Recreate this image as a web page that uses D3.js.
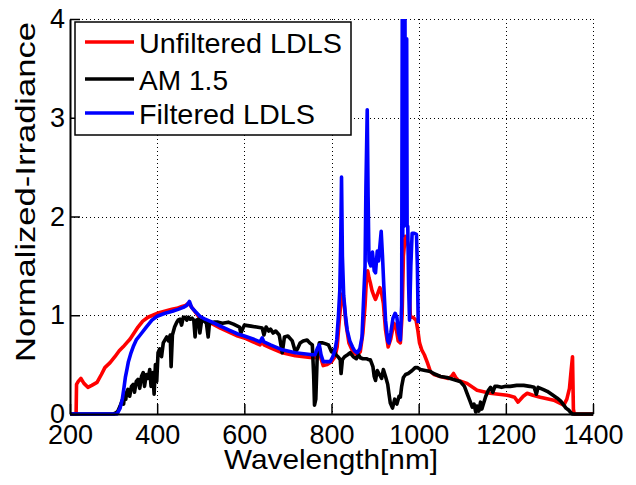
<!DOCTYPE html>
<html><head><meta charset="utf-8">
<script src="https://cdn.jsdelivr.net/npm/d3@7"></script>
<style>
body{margin:0;background:#fff;}
svg{display:block;font-family:"Liberation Sans",Arial,sans-serif;}
</style></head>
<body><svg id="c" width="636" height="485"></svg>
<script>
const xTicks = [200,400,600,800,1000,1200,1400];
const yTicks = [0,1,2,3,4];
const seriesNames = ["Unfiltered LDLS","AM 1.5","Filtered LDLS"];
const seriesColors = ["#ff0000","#000000","#0000ff"];

// Unfiltered LDLS
const redWl = [200,214,215,219,225,232,241,250,262,272,280,292,303,313,322,330,338,347,356,367,379,390,400,417,434,445,457,465,471,476,486,498,515,528,545,565,585,600,620,636,641,645,660,687,717,756,762,768,772,776,781,790,800,808,813,817,820,823,826,829,833,840,848,858,866,872,877,880,883,886,889,893,897,901,906,911,915,919,924,930,936,943,948,953,958,962,965,969,974,977,979,981,987,994,998,1002,1007,1013,1020,1027,1035,1050,1068,1075,1080,1085,1091,1111,1134,1164,1203,1220,1228,1240,1249,1262,1279,1310,1333,1340,1346,1350,1353,1355,1357,1400];
const redVal = [0,0,0.30,0.33,0.36,0.31,0.27,0.29,0.32,0.40,0.47,0.52,0.58,0.64,0.68,0.72,0.76,0.82,0.88,0.94,0.98,1.00,1.02,1.04,1.06,1.07,1.09,1.10,1.12,1.10,1.04,0.97,0.93,0.91,0.87,0.83,0.79,0.77,0.73,0.70,0.74,0.70,0.67,0.62,0.59,0.57,0.57,0.63,0.67,0.56,0.49,0.50,0.53,0.58,0.68,0.90,1.05,1.20,1.22,1.12,0.92,0.72,0.64,0.60,0.63,0.82,1.10,1.35,1.45,1.38,1.33,1.25,1.20,1.16,1.22,1.28,1.22,1.12,0.85,0.68,0.76,0.92,0.88,0.74,0.72,1.00,1.60,1.80,1.75,1.68,1.20,0.98,0.98,0.95,0.85,0.72,0.65,0.60,0.52,0.43,0.40,0.38,0.36,0.38,0.41,0.37,0.34,0.31,0.24,0.21,0.19,0.17,0.12,0.18,0.21,0.19,0.17,0.14,0.09,0.15,0.26,0.45,0.58,0.05,0,0];

// AM 1.5
const blackWl = [200,300,305,310,315,320,323,325,328,330,333,337,341,345,348,352,356,360,364,368,371,375,379,383,386,390,393,396,399,402,406,410,414,418,422,426,430,432,435,440,445,448,452,456,460,464,468,472,476,480,484,487,490,495,498,502,508,513,517,520,530,540,550,563,575,589,592,600,615,628,641,645,650,656,660,666,672,680,687,692,700,710,717,722,728,735,744,750,756,759,761,764,767,772,780,787,793,800,805,810,815,820,822,825,830,837,843,850,857,862,866,872,880,885,889,895,898,901,905,910,915,919,924,929,932,935,940,945,950,955,958,961,965,970,976,985,992,997,1004,1015,1027,1034,1050,1065,1080,1095,1105,1111,1117,1123,1127,1131,1134,1138,1142,1145,1149,1154,1160,1165,1170,1175,1180,1190,1200,1210,1225,1241,1255,1265,1270,1274,1285,1295,1305,1318,1326,1333,1338,1344,1350,1353,1400];
const blackVal = [0,0,0.01,0.03,0.08,0.14,0.10,0.19,0.15,0.22,0.25,0.18,0.28,0.30,0.22,0.33,0.35,0.26,0.38,0.42,0.28,0.40,0.36,0.45,0.28,0.42,0.20,0.50,0.33,0.62,0.66,0.58,0.72,0.75,0.78,0.74,0.80,0.48,0.80,0.88,0.93,0.95,0.96,0.90,0.98,0.98,0.95,0.98,0.96,0.97,0.95,0.78,0.95,0.96,0.82,0.95,0.94,0.92,0.78,0.92,0.93,0.93,0.92,0.93,0.91,0.88,0.82,0.90,0.89,0.88,0.87,0.80,0.88,0.84,0.86,0.82,0.84,0.80,0.62,0.78,0.79,0.74,0.63,0.66,0.72,0.74,0.75,0.72,0.70,0.40,0.09,0.15,0.55,0.72,0.72,0.71,0.70,0.63,0.65,0.60,0.58,0.55,0.41,0.55,0.58,0.60,0.62,0.58,0.56,0.60,0.57,0.56,0.56,0.55,0.55,0.48,0.38,0.34,0.44,0.40,0.36,0.45,0.38,0.30,0.20,0.11,0.06,0.15,0.10,0.18,0.17,0.28,0.37,0.40,0.41,0.44,0.47,0.47,0.45,0.44,0.43,0.41,0.38,0.37,0.35,0.33,0.28,0.21,0.14,0.07,0.10,0.02,0.08,0.03,0.12,0.05,0.11,0.18,0.24,0.27,0.22,0.28,0.28,0.27,0.28,0.28,0.29,0.29,0.28,0.27,0.20,0.27,0.25,0.23,0.20,0.16,0.13,0.09,0.06,0.04,0.01,0,0];

// Filtered LDLS
const blueWl = [200,308,315,320,324,327,331,334,340,345,352,361,375,388,400,418,435,448,460,468,474,479,487,498,510,526,545,565,585,600,620,636,641,645,660,687,717,756,762,768,772,776,781,790,797,803,808,812,816,819,821,823,825,828,832,836,842,848,853,859,865,870,874,877,879,882,884,886,890,894,898,901,905,908,911,914,917,920,924,929,932,936,941,946,950,954,958,961,962.5,963.5,964.5,965.5,966.5,967.5,968.5,969.5,970.5,971.5,972.5,973.5,975,977,979,982,985,990,995,997,999];
const blueVal = [0,0,0.06,0.15,0.27,0.37,0.46,0.53,0.62,0.68,0.75,0.80,0.88,0.95,0.99,1.02,1.04,1.06,1.08,1.10,1.14,1.08,1.04,0.99,0.96,0.93,0.89,0.85,0.81,0.79,0.76,0.73,0.77,0.73,0.70,0.65,0.62,0.60,0.60,0.67,0.70,0.60,0.53,0.53,0.53,0.58,0.65,0.75,1.00,1.25,1.70,2.40,1.60,1.20,1.00,0.85,0.74,0.68,0.64,0.62,0.66,0.78,1.20,1.50,2.30,3.08,2.20,1.55,1.50,1.64,1.45,1.43,1.65,1.55,1.70,1.85,1.60,1.30,0.95,0.74,0.72,0.82,0.97,1.02,0.98,0.82,0.75,1.10,4.30,1.80,4.30,1.90,4.30,2.00,4.30,2.00,3.80,2.00,3.80,1.90,1.90,1.30,0.95,1.50,1.83,1.83,1.82,1.50,0.92];

const W = 636, H = 485;
const m = {left:70, right:593, top:19, bottom:414};
const svg = d3.select("#c");
const x = d3.scaleLinear().domain([200,1400]).range([m.left, m.right]);
const y = d3.scaleLinear().domain([0,4]).range([m.bottom, m.top]);

// grid
const grid = svg.append("g").attr("stroke","#000").attr("stroke-width",1).attr("stroke-dasharray","1,3");
xTicks.slice(1).forEach(t=>{
  grid.append("line").attr("x1",Math.round(x(t))+0.5).attr("x2",Math.round(x(t))+0.5).attr("y1",m.top).attr("y2",m.bottom);
});
yTicks.slice(1).forEach(t=>{
  grid.append("line").attr("x1",m.left).attr("x2",m.right).attr("y1",Math.round(y(t))+0.5).attr("y2",Math.round(y(t))+0.5);
});

// clip
svg.append("defs").append("clipPath").attr("id","clip").append("rect")
  .attr("x",m.left-2).attr("y",m.top).attr("width",m.right-m.left+4).attr("height",m.bottom-m.top+4);

const line = d3.line().x(d=>x(d[0])).y(d=>y(d[1]));
const data = [
  d3.zip(redWl, redVal),
  d3.zip(blackWl, blackVal),
  d3.zip(blueWl, blueVal)
];
const lines = svg.append("g").attr("clip-path","url(#clip)");
data.forEach((d,i)=>{
  lines.append("path").datum(d).attr("d",line).attr("fill","none")
    .attr("stroke",seriesColors[i]).attr("stroke-width",3.6)
    .attr("stroke-linejoin","round");
});

// axes
const fs = 27;
const xAxis = d3.axisBottom(x).tickValues(xTicks).tickSizeInner(-10).tickSizeOuter(0).tickPadding(11).tickFormat(d3.format("d"));
const yAxis = d3.axisLeft(y).tickValues(yTicks).tickSizeInner(-10).tickSizeOuter(0).tickPadding(5).tickFormat(d3.format("d"));
const gx = svg.append("g").attr("transform",`translate(0,${m.bottom})`).call(xAxis);
const gy = svg.append("g").attr("transform",`translate(${m.left},0)`).call(yAxis);
[gx,gy].forEach(g=>{
  g.select(".domain").attr("stroke","#000").attr("stroke-width",2);
  g.selectAll(".tick line").attr("stroke","#000").attr("stroke-width",1.5);
  g.selectAll("text").attr("fill","#000").style("font-size",fs+"px").style("font-family","'Liberation Sans',Arial,sans-serif");
});

// labels
svg.append("text").attr("x",331).attr("y",469).attr("text-anchor","middle")
  .style("font-size","28px").attr("textLength",214).attr("lengthAdjust","spacingAndGlyphs").text("Wavelength[nm]");
svg.append("text").attr("transform","translate(35,192) rotate(-90)").attr("text-anchor","middle")
  .style("font-size","28px").attr("textLength",340).attr("lengthAdjust","spacingAndGlyphs").text("Normalized-Irradiance");

// legend
const lg = svg.append("g");
lg.append("rect").attr("x",75).attr("y",22).attr("width",276).attr("height",113)
  .attr("fill","#fff").attr("stroke","#000").attr("stroke-width",1.5);
const lgY = [42,79,113];
const lgLen = [203,89,176];
seriesNames.forEach((n,i)=>{
  lg.append("line").attr("x1",85).attr("x2",134).attr("y1",lgY[i]).attr("y2",lgY[i])
    .attr("stroke",seriesColors[i]).attr("stroke-width",3.6);
  lg.append("text").attr("x",139).attr("y",lgY[i]+11).style("font-size","28px")
    .attr("textLength",lgLen[i]).attr("lengthAdjust","spacingAndGlyphs").text(n);
});
</script></body></html>
